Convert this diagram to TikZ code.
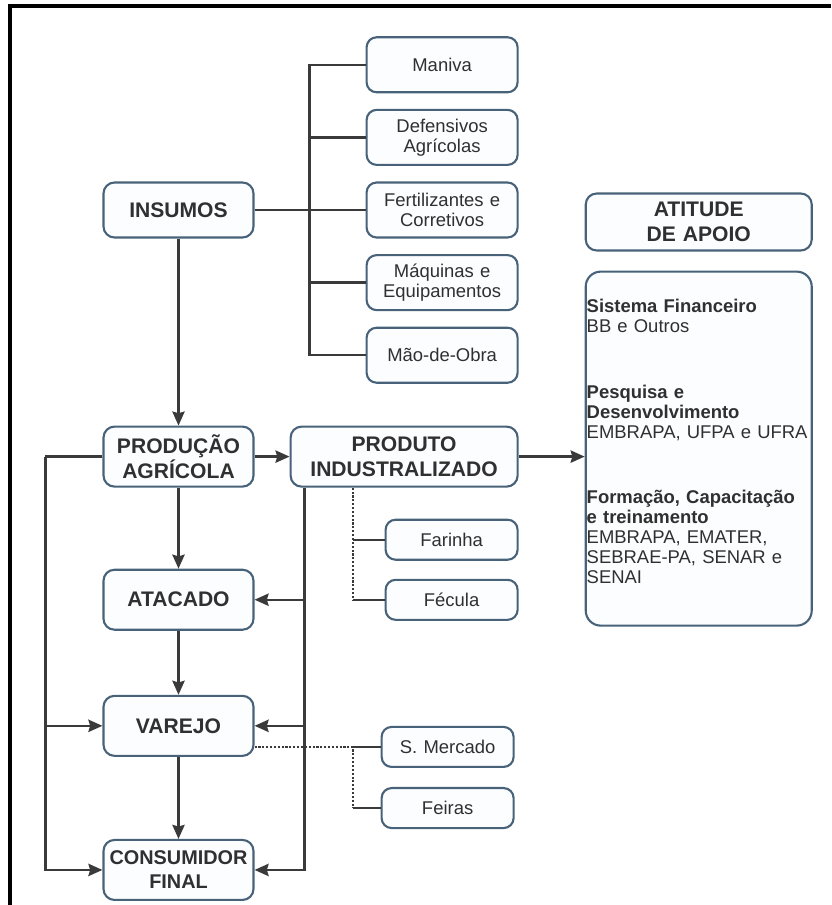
\documentclass[tikz,border=0pt]{standalone}
\usepackage{fontspec}
\setmainfont{Liberation Sans}
\usepackage{tikz}
\usetikzlibrary{shapes.geometric, arrows, positioning, calc}
\usetikzlibrary{arrows.meta}
\definecolor{borda}{RGB}{72,98,122}
\definecolor{fundo}{RGB}{252,253,255}
\definecolor{linha}{RGB}{58,58,58}
\definecolor{texto}{RGB}{48,48,48}
\tikzstyle{etapa} = [rectangle, rounded corners=0.22cm, minimum width=3cm, text width=2.96cm, minimum height=1.2cm, inner xsep=0.02cm, inner ysep=1pt, text centered, draw=borda, line width=1.2pt, fill=fundo, text=texto, font=\bfseries\fontsize{12}{14.2}\selectfont]
\tikzstyle{item} = [rectangle, rounded corners=0.2cm, minimum width=3.02cm, text width=3cm, minimum height=1.1cm, inner xsep=0.01cm, inner ysep=1pt, text centered, draw=borda, line width=1.2pt, fill=fundo, text=texto, font=\fontsize{10.5}{11.4}\selectfont]
\tikzstyle{apoiobox} = [rectangle, rounded corners=0.3cm, minimum width=4.52cm, text width=4.48cm, minimum height=7.08cm, inner xsep=0.02cm, align=left, draw=borda, line width=1.2pt, fill=fundo, text=texto, font=\fontsize{10.5}{11.4}\selectfont]
\tikzstyle{seta} = [line width=1.3pt, draw=linha, -{Stealth[length=8pt,width=7pt,inset=1pt]}]
\tikzstyle{liga} = [line width=1.3pt, draw=linha]
\tikzstyle{pontos} = [line width=1.2pt, draw=linha, densely dotted]

\begin{document}
\begin{tikzpicture}
    \useasboundingbox (0,0) rectangle (16.62,-18.1);
    \draw [line width=0.08cm, black] (0.19,-18.1) -- (0.19,-0.12) -- (16.62,-0.12);

    \node (ins) [etapa, minimum height=1.1cm] at (3.57,-4.2) {INSUMOS};
    \node (fert) [item, right=2.22cm of ins] {Fertilizantes e\\Corretivos};
    \node (defens) [item, above=0.31cm of fert] {Defensivos\\Agrícolas};
    \node (maniva) [item, above=0.31cm of defens] {Maniva};
    \node (maq) [item, below=0.31cm of fert] {Máquinas e\\Equipamentos};
    \node (mao) [item, below=0.31cm of maq] {Mão-de-Obra};

    \node (prod) [etapa, below=3.74cm of ins] {PRODUÇÃO\\AGRÍCOLA};
    \node (atac) [etapa, below=1.62cm of prod] {ATACADO};
    \node (varejo) [etapa, below=1.28cm of atac] {VAREJO};
    \node (cons) [etapa, below=1.64cm of varejo, font=\bfseries\fontsize{11.3}{13.6}\selectfont] {CONSUMIDOR\\FINAL};

    \node (produto) [etapa, minimum width=4.54cm, text width=4.5cm, right=0.7cm of prod] {PRODUTO\\INDUSTRALIZADO};
    \node (farinha) [item, minimum width=2.64cm, text width=2.6cm, minimum height=0.8cm, below left=0.62cm and 0cm of produto.south east] {Farinha};
    \node (fecula) [item, minimum width=2.64cm, text width=2.6cm, minimum height=0.8cm, below=0.36cm of farinha] {Fécula};
    \node (merc) [item, minimum width=2.64cm, text width=2.6cm, minimum height=0.8cm, below=2.1cm of fecula, xshift=-0.08cm] {S. Mercado};
    \node (feiras) [item, minimum width=2.64cm, text width=2.6cm, minimum height=0.8cm, below=0.38cm of merc] {Feiras};

    \node (atitude) [etapa, minimum width=4.52cm, text width=4.48cm, minimum height=1.14cm, right=1.32cm of fert, yshift=-0.24cm] {ATITUDE\\DE APOIO};
    \node (apoio) [apoiobox, below=0.38cm of atitude] {\textbf{Sistema Financeiro}\\BB e Outros\\[0.92cm]
        \textbf{Pesquisa e}\\\textbf{Desenvolvimento}\\EMBRAPA, UFPA e UFRA\\[0.9cm]
        \textbf{Formação, Capacitação}\\\textbf{e treinamento}\\EMBRAPA, EMATER,\\SEBRAE-PA, SENAR e\\SENAI\\[-0.12cm]\mbox{}};

    % insumos
    \draw [liga] (ins.east) -- (fert.west);
    \draw [liga] (maniva.west) -- ++(-1.12,0) |- (mao.west);
    \draw [liga] (defens.west) -- ++(-1.12,0);
    \draw [liga] (maq.west) -- ++(-1.12,0);

    % cadeia principal
    \draw [seta] (ins) -- (prod);
    \draw [seta] (prod) -- (produto);
    \draw [seta] (prod) -- (atac);
    \draw [seta] (atac) -- (varejo);
    \draw [seta] (varejo) -- (cons);
    \draw [seta] (produto.east) -- (produto.east -| apoio.west);

    \coordinate (esq) at ($(prod.west)+(-1.14,0)$);
    \draw [liga] (prod.west) -- (esq);
    \draw [seta] (esq) |- (varejo.west);
    \draw [seta] (esq) |- (cons.west);

    \coordinate (dir) at ($(produto.south west)+(0.3,0)$);
    \draw [seta] (dir) |- (atac.east);
    \draw [seta] (dir) |- (varejo.east);
    \draw [seta] (dir) |- (cons.east);

    % derivados
    \coordinate (pf) at ($(farinha.west)+(-0.64,0)$);
    \draw [pontos] (pf |- produto.south) -- (pf |- fecula.west);
    \draw [liga] (pf) -- (farinha.west);
    \draw [liga] (pf |- fecula.west) -- (fecula.west);

    \coordinate (pm) at ($(merc.west)+(-0.56,0)$);
    \draw [pontos] (varejo.east |- merc.west) -- (pm) -- (pm |- feiras.west);
    \draw [liga] (pm) -- (merc.west);
    \draw [liga] (pm |- feiras.west) -- (feiras.west);
\end{tikzpicture}
\end{document}
